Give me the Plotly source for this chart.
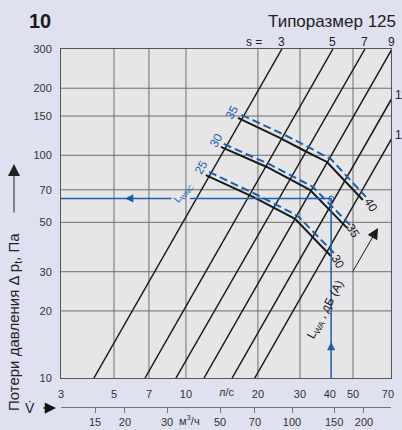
import math
import plotly.graph_objects as go

# --- données lues sur l'abaque (V en l/s, dp en Pa) ---
# droites s : débit à 10 Pa et à 300 Pa
s_labels = ["3", "5", "7", "9", "11", "13"]
s_v_10pa = [4.12, 6.74, 9.08, 11.9, 15.6, 19.4]
s_v_300pa = [25.2, 41.2, 56.1, 72.8, 95.4, 118.9]

# courbes LWA (noir) : 25->30, 30->35, 35->40
lwa25_v = [12.1, 19.1, 28.6, 40.4]
lwa25_dp = [81.5, 65.0, 51.8, 35.3]
lwa30_v = [14.0, 21.8, 33.0, 47.2]
lwa30_dp = [109.0, 88.6, 69.9, 47.2]
lwa35_v = [16.5, 24.7, 30.9, 38.9, 55.0]
lwa35_dp = [147.1, 119.6, 105.6, 93.3, 63.0]

# courbes LWNC (bleu pointillé)
lwnc25_v = [12.5, 19.5, 29.4, 41.6]
lwnc25_dp = [84.1, 67.0, 53.4, 36.4]
lwnc30_v = [14.4, 22.2, 34.0, 48.6]
lwnc30_dp = [112.4, 91.4, 72.1, 48.6]
lwnc35_v = [17.1, 25.4, 31.8, 40.4, 56.6]
lwnc35_dp = [151.7, 124.6, 110.1, 96.2, 65.0]

# exemple de lecture
ex_v = 40.5
ex_dp = 64.0
ex_gap = [8.7, 10.4]  # coupure pour le texte LWNC

# axes
x_min, x_max = 3.0, 72.1
y_min, y_max = 10.0, 300.0
ls_ticks = [3, 5, 7, 10, 20, 30, 40, 50, 70]
pa_ticks = [10, 20, 30, 50, 70, 100, 150, 200, 300]
mh_ticks = [15, 20, 30, 50, 70, 100, 150, 200]
grid_ls = [5, 7, 10, 20, 30, 50]
grid_pa = [20, 30, 50, 70, 100, 150, 200]

BLUE = "#1a5fae"
INK = "#1a1a1a"
FONT = "Liberation Sans, Arial, sans-serif"
L = math.log10

fig = go.Figure()

# grille
gx, gy = [], []
for v in grid_ls:
    gx += [v, v, None]
    gy += [y_min, y_max, None]
for p in grid_pa:
    gx += [x_min, x_max, None]
    gy += [p, p, None]
fig.add_trace(go.Scatter(x=gx, y=gy, mode="lines", line=dict(color="#6e6e6e", width=1),
                         hoverinfo="skip", showlegend=False))

# droites s
for lab, v10, v300 in zip(s_labels, s_v_10pa, s_v_300pa):
    fig.add_trace(go.Scatter(x=[v10, v300], y=[10, 300], mode="lines",
                             line=dict(color=INK, width=1.5), showlegend=False))

# courbes LWA / LWNC
for v, dp in [(lwnc25_v, lwnc25_dp), (lwnc30_v, lwnc30_dp), (lwnc35_v, lwnc35_dp)]:
    fig.add_trace(go.Scatter(x=v, y=dp, mode="lines",
                             line=dict(color=BLUE, width=2, dash="8px,4px"), showlegend=False))
for v, dp in [(lwa25_v, lwa25_dp), (lwa30_v, lwa30_dp), (lwa35_v, lwa35_dp)]:
    fig.add_trace(go.Scatter(x=v, y=dp, mode="lines",
                             line=dict(color=INK, width=2), showlegend=False))

# exemple
fig.add_trace(go.Scatter(x=[x_min, ex_gap[0], None, ex_gap[1], ex_v, ex_v],
                         y=[ex_dp, ex_dp, None, ex_dp, ex_dp, y_min], mode="lines",
                         line=dict(color=BLUE, width=1.5), showlegend=False))
fig.add_trace(go.Scatter(x=[ex_v], y=[ex_dp], mode="markers",
                         marker=dict(symbol="circle-open", size=5, color=BLUE), showlegend=False))

# axe m3/h (trace vide pour créer l'axe)
fig.add_trace(go.Scatter(x=mh_ticks, y=[None] * len(mh_ticks), xaxis="x2", showlegend=False))

ann = []


def txt(x, y, text, size=12, color=INK, angle=0, xref="x", yref="y", **kw):
    d = dict(x=x, y=y, text=text, xref=xref, yref=yref, showarrow=False, textangle=angle,
             xanchor="center", yanchor="middle",
             font=dict(family=FONT, size=size, color=color))
    d.update(kw)
    ann.append(d)


# titres
txt(-0.0636, 1.0755, "<b>10</b>", 20, xref="paper", yref="paper")
txt(1.0212, 1.0728, "Типоразмер 125", 17, "#222", xref="paper", yref="paper", xanchor="right")
txt(-0.1424, 0.264, "Потери давления Δ p<sub>t</sub>, Па", 15, "#222", -90, "paper", "paper")
txt(-0.0939, 0.0323, "V̇", 14, "#222", xref="paper", yref="paper")
txt(0.5, 0.0755, "л/с", 11, "#333", xref="paper", yref="paper")
txt(0.39, 0.0, "м<sup>3</sup>/ч", 11, "#333", xref="paper", yref="paper")

# libellés s
txt(0.5848, 1.0189, "s =", 12, "#222", xref="paper", yref="paper")
for lab, v10, v300 in zip(s_labels, s_v_10pa, s_v_300pa):
    if v300 <= x_max * 1.02:
        txt(L(min(v300, x_max)), 1.0189, lab, 12, "#222", yref="paper")
    else:
        k = (L(300) - L(10)) / (L(v300) - L(v10))
        p = 1 + k * (L(x_max) - L(v10))
        txt(L(x_max), p, lab, 12, "#222", xanchor="left", xshift=2, yshift=5)

# libellés courbes
txt(L(11.6), L(88.6), "25", 12, BLUE, -60)
txt(L(13.4), L(117.2), "30", 12, BLUE, -60)
txt(L(15.6), L(156.4), "35", 12, BLUE, -60)
txt(L(43.3), L(33.2), "30", 12, INK, 60)
txt(L(50.0), L(45.7), "35", 12, INK, 60)
txt(L(59.5), L(59.8), "40", 12, INK, 60)
txt(L(9.72), L(67.7), "L<sub>WNC</sub>", 10, BLUE, -50)
txt(L(38.5), L(20.2), "L<sub>WA</sub> , дБ (A)", 12, INK, -62)

# flèches
arrow = dict(showarrow=True, text="", arrowhead=2, arrowwidth=1)
ann.append(dict(arrow, x=L(5.56), y=L(ex_dp), xref="x", yref="y", ax=9, ay=0,
                arrowcolor=BLUE, arrowsize=1.1, arrowwidth=1.5))
ann.append(dict(arrow, x=L(ex_v), y=L(14.5), xref="x", yref="y", ax=0, ay=10,
                arrowcolor=BLUE, arrowsize=1.1, arrowwidth=1.5))
ann.append(dict(arrow, x=L(63.6), y=L(47.2), xref="x", yref="y", ax=-26, ay=45,
                arrowcolor=INK, arrowsize=2.2))
ann.append(dict(arrow, x=-0.1424, y=0.690, xref="paper", yref="paper", ax=0, ay=50,
                arrowcolor="#222", arrowsize=2.4))
ann.append(dict(arrow, x=-0.0152, y=0.0323, xref="paper", yref="paper", ax=-14, ay=0,
                arrowcolor="#111", arrowsize=1.5, arrowwidth=1.5))

tick_font = dict(family=FONT, size=11, color="#333")
fig.update_layout(
    width=402, height=430,
    margin=dict(l=61, r=11, t=49, b=10, autoexpand=False),
    paper_bgcolor="#dfe0f0",
    plot_bgcolor="#e6e6e8",
    showlegend=False,
    hovermode=False,
    annotations=ann,
    xaxis=dict(type="log", range=[L(x_min), L(x_max)], tickvals=ls_ticks,
               ticktext=[str(t) for t in ls_ticks], showgrid=False, zeroline=False,
               showline=True, linecolor="#555", linewidth=1, mirror=True,
               ticks="", ticklabelstandoff=6, tickfont=tick_font, anchor="y",
               automargin=False),
    xaxis2=dict(type="log", overlaying="x", anchor="free", position=0.035, side="bottom",
                range=[L(x_min * 3.6), L(x_max * 3.6)], tickvals=mh_ticks,
                ticktext=[str(t) for t in mh_ticks], showgrid=False, zeroline=False,
                showline=True, linecolor="#777", linewidth=1, ticks="outside", ticklen=5,
                tickcolor="#777", tickfont=tick_font, automargin=False),
    yaxis=dict(type="log", range=[L(y_min), L(y_max)], domain=[0.1132, 1],
               tickvals=pa_ticks, ticktext=[str(t) for t in pa_ticks], showgrid=False,
               zeroline=False, showline=True, linecolor="#555", linewidth=1, mirror=True,
               ticks="", ticklabelstandoff=6, tickfont=tick_font, automargin=False),
)

# la page a une marge de 8 px par défaut : on la supprime
fig.write_html("out.html", config={"displayModeBar": False},
               post_script="document.body.style.margin='0px';")
